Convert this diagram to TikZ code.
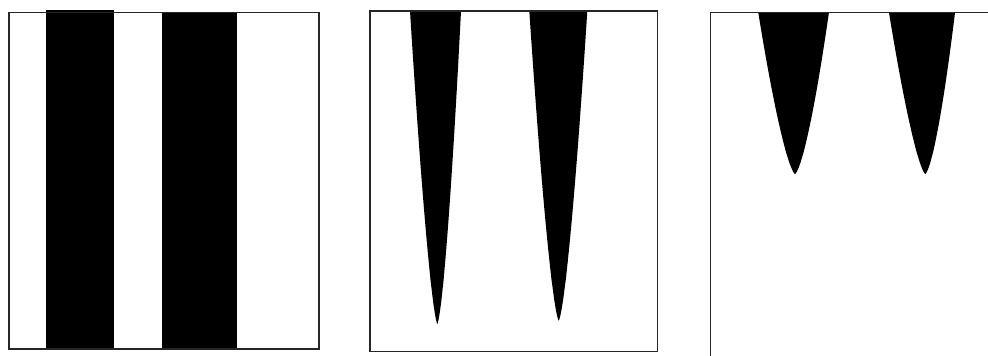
\documentclass[tikz,border=0pt]{standalone}
\usetikzlibrary{calc}
\tikzset{frameline/.style={draw=black!85,line width=1.1pt}}
% #1 top centre x, #2 top half width, #3 top y, #4 tip x, #5 tip y
\newcommand\myspike[5]{%
  \fill[black] (#1-#2,#3)
    -- plot[domain=1:0.002,samples=80] ({#4+(#1-#4)*\x-#2*(\x)^0.7},{#5-(#5-#3)*\x})
    -- (#4,#5)
    -- plot[domain=0.002:1,samples=80] ({#4+(#1-#4)*\x+#2*(\x)^0.7},{#5-(#5-#3)*\x})
    -- cycle;}
\begin{document}
\begin{tikzpicture}[x=1pt,y=-1pt]
\useasboundingbox[fill=white] (0,0) rectangle (988,356);
% panel 1
\fill[black] (45.7,10) rectangle (114.3,350);
\fill[black] (161.7,12.7) rectangle (237.3,350);
\draw[frameline] (9,12.7) rectangle (319,349);
% panel 2
\myspike{435.5}{25.5}{11}{437.3}{324}
\myspike{558.3}{29}{11}{558.7}{320.7}
\draw[frameline] (370,11) rectangle (657.7,351.7);
% panel 3
\myspike{793.6}{35.3}{12.7}{795}{174}
\myspike{922}{33}{12.7}{925.3}{174}
\draw[frameline] (710.7,357) -- (710.7,12.7) -- (989,12.7);
\end{tikzpicture}
\end{document}
